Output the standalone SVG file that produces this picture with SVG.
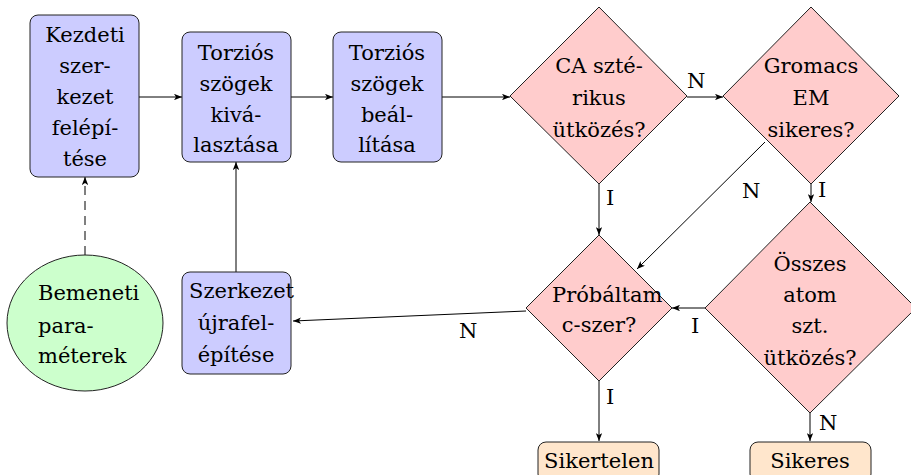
<svg xmlns="http://www.w3.org/2000/svg" width="911" height="475" viewBox="0 0 911 475">
<defs>
<marker id="arr" viewBox="0 0 10 8" refX="10" refY="4" markerWidth="8" markerHeight="6.4" orient="auto" markerUnits="userSpaceOnUse"><path d="M0,0 L10,4 L0,8 L2.5,4 z" fill="#000"/></marker>
<style>
text{font-family:"DejaVu Serif","Liberation Serif",serif;font-size:21px;fill:#000}
.c{text-anchor:middle}
.box{fill:#ccccff;stroke:#222;stroke-width:1}
.dia{fill:#ffcccc;stroke:#222;stroke-width:1}
.ell{fill:#ccffcc;stroke:#222;stroke-width:1}
.end{fill:#ffe6cc;stroke:#222;stroke-width:1}
.con{fill:none;stroke:#000;stroke-width:1;marker-end:url(#arr)}
.dash{stroke-dasharray:9 6}
</style>
</defs>
<g id="connectors">
<line class="con" x1="139" y1="97" x2="182" y2="97"/>
<line class="con" x1="291" y1="97" x2="333" y2="97"/>
<line class="con" x1="442" y1="97" x2="510" y2="97"/>
<line class="con" x1="687" y1="97" x2="723" y2="97"/>
<line class="con" x1="599" y1="184" x2="599" y2="235"/>
<line class="con" x1="811" y1="184" x2="811" y2="202"/>
<line class="con" x1="765" y1="142" x2="637" y2="269"/>
<line class="con" x1="705" y1="308" x2="672" y2="308"/>
<line class="con" x1="526" y1="311" x2="293" y2="321"/>
<line class="con" x1="599" y1="381" x2="599" y2="441"/>
<line class="con" x1="810" y1="413" x2="810" y2="441"/>
<line class="con" x1="236" y1="272" x2="236" y2="162"/>
<line class="con dash" x1="85" y1="255" x2="85" y2="177"/>
<text x="687" y="88">N</text>
<text x="606" y="205">I</text>
<text x="742" y="198">N</text>
<text x="818" y="197">I</text>
<text x="691" y="333">I</text>
<text x="459" y="338">N</text>
<text x="606" y="404">I</text>
<text x="819" y="430">N</text>
</g>
<g id="n-kezdeti">
<rect class="box" x="30" y="15" width="109" height="162" rx="8"/>
<text class="c" x="85" y="42">Kezdeti</text>
<text class="c" x="85" y="73">szer-</text>
<text class="c" x="85" y="104">kezet</text>
<text class="c" x="85" y="135">felépí-</text>
<text class="c" x="85" y="166">tése</text>
</g>
<g id="n-kivalasztas">
<rect class="box" x="182" y="32" width="109" height="130" rx="8"/>
<text class="c" x="236" y="60">Torziós</text>
<text class="c" x="236" y="91">szögek</text>
<text class="c" x="236" y="122">kivá-</text>
<text class="c" x="236" y="152">lasztása</text>
</g>
<g id="n-beallitas">
<rect class="box" x="333" y="32" width="109" height="130" rx="8"/>
<text class="c" x="387" y="60">Torziós</text>
<text class="c" x="387" y="91">szögek</text>
<text class="c" x="387" y="122">beál-</text>
<text class="c" x="387" y="152">lítása</text>
</g>
<g id="n-ca">
<polygon class="dia" points="599,7 687,96 599,184 510,96"/>
<text class="c" x="599" y="73">CA szté-</text>
<text class="c" x="599" y="105">rikus</text>
<text class="c" x="599" y="137">ütközés?</text>
</g>
<g id="n-gromacs">
<polygon class="dia" points="811,7 899,96 811,184 723,96"/>
<text class="c" x="811" y="73">Gromacs</text>
<text class="c" x="811" y="105">EM</text>
<text class="c" x="811" y="137">sikeres?</text>
</g>
<g id="n-probaltam">
<polygon class="dia" points="599,235 672,308 599,381 526,308"/>
<text x="552" y="302">Próbáltam</text>
<text class="c" x="599" y="332">c-szer?</text>
</g>
<g id="n-osszes">
<polygon class="dia" points="810,202 916,308 810,413 705,308"/>
<text class="c" x="810" y="271">Összes</text>
<text class="c" x="810" y="302">atom</text>
<text class="c" x="810" y="333">szt.</text>
<text class="c" x="810" y="365">ütközés?</text>
</g>
<g id="n-ujraepites">
<rect class="box" x="182" y="272" width="109" height="102" rx="8"/>
<text x="189" y="298">Szerkezet</text>
<text class="c" x="236" y="330">újrafel-</text>
<text class="c" x="236" y="362">építése</text>
</g>
<g id="n-bemeneti">
<ellipse class="ell" cx="85" cy="323" rx="78" ry="68"/>
<text x="38" y="300">Bemeneti</text>
<text x="38" y="333">para-</text>
<text x="38" y="363">méterek</text>
</g>
<g id="n-sikertelen">
<rect class="end" x="538" y="442" width="121" height="40" rx="8"/>
<text class="c" x="599" y="468">Sikertelen</text>
</g>
<g id="n-sikeres">
<rect class="end" x="750" y="442" width="121" height="40" rx="8"/>
<text class="c" x="810" y="468">Sikeres</text>
</g>
</svg>
